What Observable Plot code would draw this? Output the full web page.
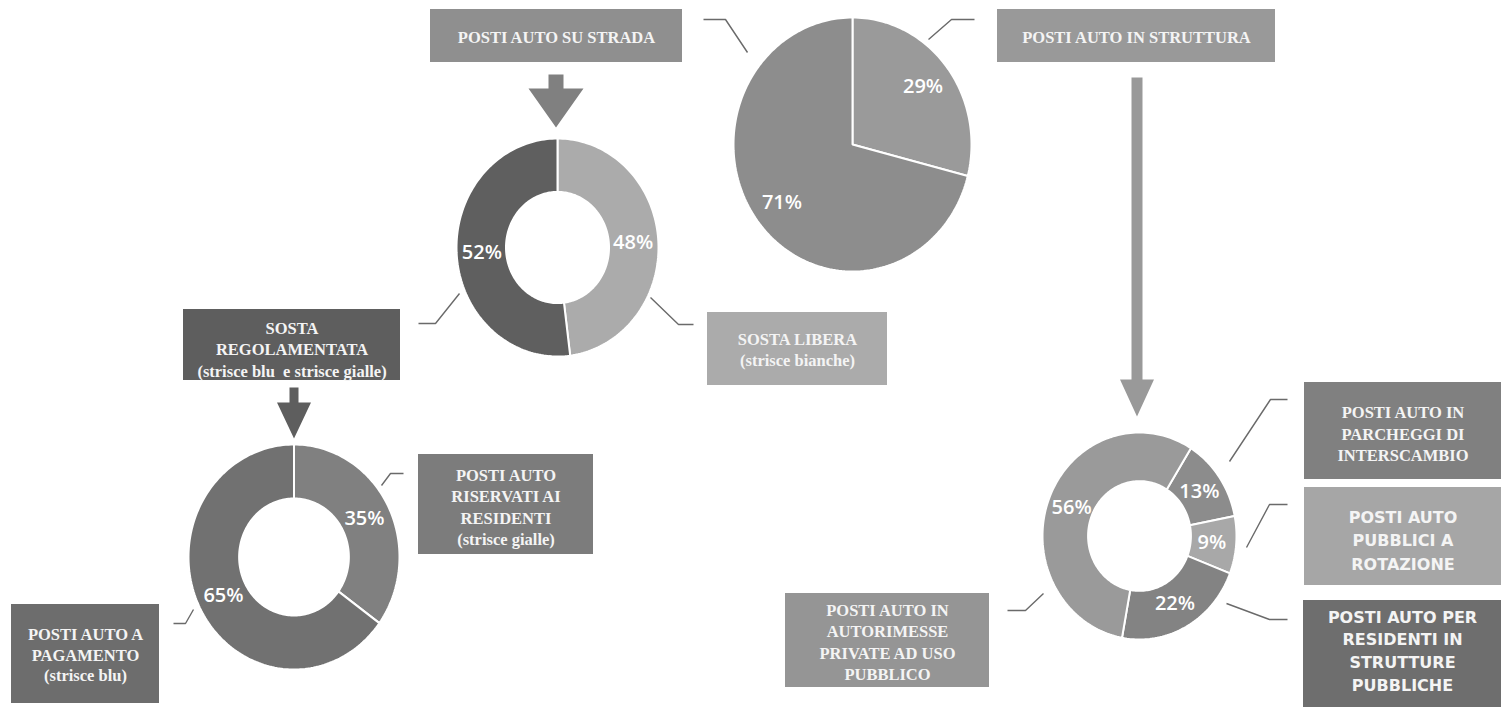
<!DOCTYPE html>
<html>
<head>
<meta charset="utf-8">
<script src="https://cdn.jsdelivr.net/npm/d3@7"></script>
<script src="https://cdn.jsdelivr.net/npm/@observablehq/plot@0.6"></script>
<style>
  html, body { margin: 0; padding: 0; background: #ffffff; }
  #chart svg { display: block; }
</style>
</head>
<body>
<div id="chart"></div>
<script>
// ---------- DATA ----------
const totaleCategories = ["POSTI AUTO IN STRUTTURA", "POSTI AUTO SU STRADA"];
const totaleValues = [29, 71];

const stradaCategories = ["SOSTA LIBERA (strisce bianche)", "SOSTA REGOLAMENTATA (strisce blu e strisce gialle)"];
const stradaValues = [48, 52];

const regolamentataCategories = ["POSTI AUTO RISERVATI AI RESIDENTI (strisce gialle)", "POSTI AUTO A PAGAMENTO (strisce blu)"];
const regolamentataValues = [35, 65];

const strutturaCategories = [
  "POSTI AUTO IN PARCHEGGI DI INTERSCAMBIO",
  "POSTI AUTO PUBBLICI A ROTAZIONE",
  "POSTI AUTO PER RESIDENTI IN STRUTTURE PUBBLICHE",
  "POSTI AUTO IN AUTORIMESSE PRIVATE AD USO PUBBLICO"
];
const strutturaValues = [13, 9, 22, 56];

const boxLabels = [
  "POSTI AUTO SU STRADA",
  "POSTI AUTO IN STRUTTURA",
  "SOSTA LIBERA\n(strisce bianche)",
  "SOSTA\nREGOLAMENTATA\n(strisce blu  e strisce gialle)",
  "POSTI AUTO\nRISERVATI AI\nRESIDENTI\n(strisce gialle)",
  "POSTI AUTO A\nPAGAMENTO\n(strisce blu)",
  "POSTI AUTO IN\nPARCHEGGI DI\nINTERSCAMBIO",
  "POSTI AUTO\nPUBBLICI A\nROTAZIONE",
  "POSTI AUTO PER\nRESIDENTI IN\nSTRUTTURE\nPUBBLICHE",
  "POSTI AUTO IN\nAUTORIMESSE\nPRIVATE AD USO\nPUBBLICO"
];

// ---------- LAYOUT ----------
const W = 1501, H = 707;
const SERIF = "Liberation Serif, Times New Roman, serif";
const SANS = "DejaVu Sans, Verdana, sans-serif";
const PCT = "Open Sans, Noto Sans, sans-serif";

const pies = [
  {values: totaleValues, cx: 852, cy: 144, rx: 119, ry: 127, inner: 0, start: 0,
   colors: ["#9a9a9a", "#8d8d8d"]},
  {values: stradaValues, cx: 557, cy: 247, rx: 101, ry: 109, inner: 0.51, start: 0,
   colors: ["#ababab", "#5f5f5f"]},
  {values: regolamentataValues, cx: 293.5, cy: 556.5, rx: 105.5, ry: 112.5, inner: 0.52, start: 0,
   colors: ["#808080", "#717171"]},
  {values: strutturaValues, cx: 1139, cy: 535.5, rx: 97, ry: 103.5, inner: 0.53, start: 32,
   colors: ["#8c8c8c", "#a8a8a8", "#838383", "#9a9a9a"]}
];

const boxes = [
  {x1: 430, x2: 682, y1: 9, y2: 62, ty: 36, fill: "#8f8f8f", font: SERIF, size: 16.5, lh: 1.3},
  {x1: 997, x2: 1275, y1: 9, y2: 62, ty: 36, fill: "#999999", font: SERIF, size: 16.5, lh: 1.3},
  {x1: 707, x2: 887, y1: 312, y2: 385, ty: 348, fill: "#ababab", font: SERIF, size: 16.5, lh: 1.3},
  {x1: 183, x2: 400, y1: 309, y2: 380, ty: 348, fill: "#5e5e5e", font: SERIF, size: 16.5, lh: 1.3},
  {x1: 418, x2: 593, y1: 454, y2: 554, ty: 505.5, fill: "#7c7c7c", font: SERIF, size: 16.5, lh: 1.3},
  {x1: 11, x2: 159, y1: 604, y2: 703, ty: 653.5, fill: "#6d6d6d", font: SERIF, size: 16.5, lh: 1.25},
  {x1: 1304, x2: 1501, y1: 382, y2: 479, ty: 432, fill: "#808080", font: SERIF, size: 16.5, lh: 1.33},
  {x1: 1304, x2: 1501, y1: 487, y2: 585, ty: 538.5, fill: "#a6a6a6", font: SANS, size: 16, lh: 1.46},
  {x1: 1303, x2: 1501, y1: 600, y2: 707, ty: 649, fill: "#6e6e6e", font: SANS, size: 16, lh: 1.42},
  {x1: 785, x2: 989, y1: 593, y2: 687, ty: 640.5, fill: "#959595", font: SERIF, size: 16.5, lh: 1.3}
].map((b, i) => ({...b, label: boxLabels[i]}));

const arrows = [
  {cx: 555.5, top: 74, neck: 88, tip: 127, hw: 7.5, HW: 27.5, fill: "#808080"},
  {cx: 293.5, top: 387, neck: 402, tip: 438, hw: 4.5, HW: 17, fill: "#5e5e5e"},
  {cx: 1136.5, top: 77, neck: 379, tip: 416, hw: 5.5, HW: 17, fill: "#999999"}
];

const leaders = [
  [[703, 19], [725, 19], [747, 52]],
  [[928, 39], [951, 19], [974, 19]],
  [[418, 323], [435, 323], [459, 293]],
  [[650, 297], [678, 324], [693, 324]],
  [[381, 485], [390, 473], [403, 473]],
  [[173, 623], [185, 623], [193, 609]],
  [[1229, 461], [1270, 399], [1287, 399]],
  [[1246, 547], [1269, 504], [1287, 504]],
  [[1226, 603], [1269, 619], [1287, 619]],
  [[1007, 610], [1025, 610], [1043, 593]]
];

// ---------- GEOMETRY ----------
function pt(p, r, deg) {
  const a = deg * Math.PI / 180;
  return {x: p.cx + r * p.rx * Math.sin(a), y: p.cy - r * p.ry * Math.cos(a)};
}
function slices(p) {
  const total = d3.sum(p.values);
  let a = p.start;
  return p.values.map((v, i) => {
    const a0 = a, a1 = a + v / total * 360;
    a = a1;
    const n = Math.max(6, Math.ceil((a1 - a0) / 1.5));
    const pts = [];
    for (let k = 0; k <= n; k++) pts.push(pt(p, 1, a0 + (a1 - a0) * k / n));
    if (p.inner > 0) {
      for (let k = n; k >= 0; k--) pts.push(pt(p, p.inner, a0 + (a1 - a0) * k / n));
    } else {
      pts.push({x: p.cx, y: p.cy});
    }
    pts.push(pts[0]);
    const mid = (a0 + a1) / 2;
    const lp = pt(p, 0.75, mid);
    return {pts, fill: p.colors[i], label: v + "%", lx: lp.x, ly: lp.y};
  });
}
const allSlices = pies.flatMap(slices);

function arrowPoly(a) {
  return [
    {x: a.cx - a.hw, y: a.top}, {x: a.cx + a.hw, y: a.top},
    {x: a.cx + a.hw, y: a.neck}, {x: a.cx + a.HW, y: a.neck},
    {x: a.cx, y: a.tip}, {x: a.cx - a.HW, y: a.neck},
    {x: a.cx - a.hw, y: a.neck}, {x: a.cx - a.hw, y: a.top}
  ];
}

// ---------- MARKS ----------
const marks = [];

marks.push(Plot.rect(boxes, {x1: "x1", x2: "x2", y1: "y1", y2: "y2", fill: "fill"}));

for (const a of arrows) {
  marks.push(Plot.line(arrowPoly(a), {x: "x", y: "y", fill: a.fill, stroke: "none", curve: "linear"}));
}

for (const s of allSlices) {
  marks.push(Plot.line(s.pts, {x: "x", y: "y", fill: s.fill, stroke: "#ffffff", strokeWidth: 2,
    strokeLinejoin: "miter", curve: "linear"}));
}

for (const l of leaders) {
  marks.push(Plot.line(l.map(([x, y]) => ({x, y})), {x: "x", y: "y", stroke: "#6a6a6a", strokeWidth: 1.4,
    strokeLinejoin: "miter", strokeLinecap: "butt"}));
}

marks.push(Plot.text(allSlices, {x: "lx", y: "ly", text: "label", fill: "#ffffff",
  fontFamily: PCT, fontWeight: 600, fontSize: 20, textAnchor: "middle", lineAnchor: "middle"}));

for (const b of boxes) {
  marks.push(Plot.text([b], {x: d => (d.x1 + d.x2) / 2, y: "ty", text: "label", fill: "#f4f4f4",
    fontFamily: b.font, fontWeight: "bold", fontSize: b.size, lineHeight: b.lh,
    textAnchor: "middle", lineAnchor: "middle"}));
}

const chart = Plot.plot({
  width: W,
  height: H,
  margin: 0,
  x: {domain: [0, W], range: [0, W], axis: null},
  y: {domain: [0, H], range: [0, H], axis: null},
  color: {type: "identity"},
  style: {background: "#ffffff", overflow: "visible"},
  marks
});
document.getElementById("chart").appendChild(chart);
</script>
</body>
</html>
